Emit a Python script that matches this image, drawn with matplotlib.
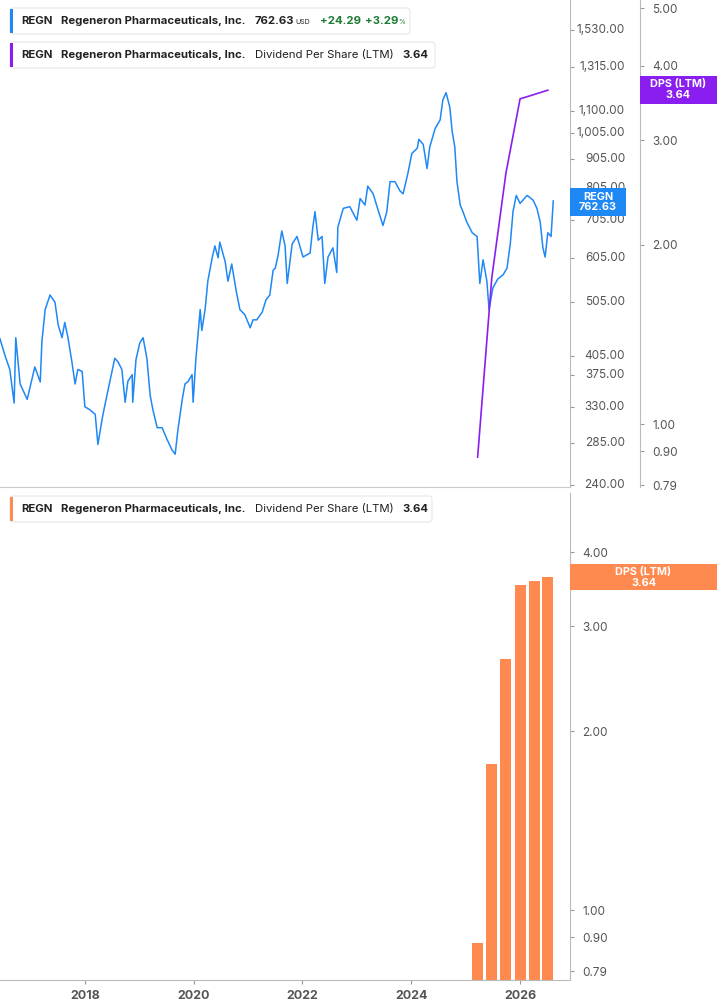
import matplotlib
matplotlib.use("Agg")
import matplotlib.pyplot as plt
import matplotlib.transforms as mtransforms
from matplotlib.patches import FancyBboxPatch, Rectangle
from matplotlib.ticker import FixedLocator, NullLocator, NullFormatter

plt.rcParams['font.family'] = ['Inter', 'DejaVu Sans']

price_dates = [2016.44,2016.53,2016.62,2016.70,2016.73,2016.81,2016.94,2017.08,2017.18,2017.21,2017.27,2017.36,2017.45,2017.51,2017.58,2017.63,2017.69,2017.76,2017.82,2017.87,2017.95,2018.00,2018.09,2018.19,2018.24,2018.32,2018.37,2018.46,2018.55,2018.61,2018.68,2018.74,2018.79,2018.87,2018.88,2018.94,2019.01,2019.07,2019.14,2019.20,2019.25,2019.33,2019.42,2019.51,2019.60,2019.66,2019.71,2019.79,2019.84,2019.90,2019.97,2019.99,2020.04,2020.12,2020.15,2020.21,2020.26,2020.34,2020.39,2020.45,2020.48,2020.58,2020.63,2020.70,2020.78,2020.85,2020.94,2021.04,2021.09,2021.16,2021.26,2021.33,2021.40,2021.46,2021.50,2021.55,2021.62,2021.68,2021.72,2021.81,2021.90,2022.01,2022.14,2022.19,2022.23,2022.29,2022.36,2022.41,2022.47,2022.56,2022.63,2022.65,2022.75,2022.87,2023.00,2023.06,2023.15,2023.20,2023.30,2023.39,2023.48,2023.55,2023.61,2023.70,2023.79,2023.85,2023.94,2024.01,2024.11,2024.14,2024.22,2024.29,2024.34,2024.44,2024.53,2024.58,2024.64,2024.71,2024.75,2024.80,2024.84,2024.90,2024.95,2025.02,2025.12,2025.21,2025.26,2025.32,2025.39,2025.43,2025.50,2025.59,2025.69,2025.76,2025.82,2025.87,2025.93,2026.00,2026.13,2026.24,2026.31,2026.37,2026.42,2026.46,2026.51,2026.57,2026.61]
price_values = [435,407,384,335,437,362,340,388,365,430,490,520,505,460,437,465,437,397,362,384,381,330,326,320,283,315,333,366,402,396,384,336,366,376,336,400,428,437,402,346,326,303,303,289,277,272,300,340,362,366,376,336,400,490,450,490,550,605,635,605,645,595,550,590,530,490,480,455,470,470,485,510,520,575,580,610,675,635,545,640,660,607,617,685,730,650,660,545,607,630,570,685,740,745,705,770,750,810,785,735,690,730,825,825,795,785,855,925,945,980,960,870,950,1025,1060,1150,1185,1115,1015,950,825,750,730,700,670,660,545,600,550,490,535,555,565,580,640,730,780,755,780,765,740,700,630,607,670,660,762.63]

dps_dates = [2025.22, 2025.48, 2025.74, 2026.00, 2026.26, 2026.51]
dps_values = [0.88, 1.76, 2.64, 3.52, 3.58, 3.64]

price_ticks = [240, 285, 330, 375, 405, 505, 605, 705, 805, 905, 1005, 1100, 1315, 1530]
dps_ticks = [0.79, 0.90, 1.00, 2.00, 3.00, 4.00, 5.00]
year_ticks = [2018, 2020, 2022, 2024, 2026]

W, H = 717, 1005
BLUE = '#1E88F5'
PURPLE = '#8A1EF0'
ORANGE = '#FF8A50'
GRAY = '#555555'
fig = plt.figure(figsize=(W/100, H/100), dpi=100)

def fx(x): return x / W
def fy(y): return 1 - y / H

XL = (2016.44, 2016.44 + 570/54.4)

# top price axes
ax = fig.add_axes([0, fy(487), fx(570), 487/H])
ax.plot(price_dates, price_values, color=BLUE, lw=1.1)
ax.set_yscale('log')
ax.set_ylim(238, 1728)
ax.set_xlim(*XL)
ax.yaxis.set_major_locator(FixedLocator(price_ticks))
ax.yaxis.set_minor_locator(NullLocator())
ax.yaxis.set_major_formatter(NullFormatter())
ax.set_xticks([])
for s in ['top', 'left']:
    ax.spines[s].set_visible(False)
ax.spines['right'].set_color('#bbbbbb')
ax.spines['bottom'].set_color('#cccccc')

# top dps axis
ax2 = ax.twinx()
ax.tick_params(axis='y', left=False, right=True, labelleft=False, length=3, color='#999999')
trans = mtransforms.blended_transform_factory(ax.transAxes, ax.transData)
for v in price_ticks:
    ax.text(625/570, v, f"{v:,.2f}", transform=trans, ha='right', va='center',
            fontsize=8.5, color=GRAY, clip_on=False)
ax2.plot(dps_dates, dps_values, color=PURPLE, lw=1.2)
ax2.set_yscale('log')
ax2.set_ylim(0.784, 5.16)
ax2.set_xlim(*XL)
ax2.yaxis.set_major_locator(FixedLocator(dps_ticks))
ax2.yaxis.set_minor_locator(NullLocator())
ax2.set_yticklabels([f"{v:.2f}" for v in dps_ticks])
ax2.spines['right'].set_position(('axes', 640/570))
ax2.spines['right'].set_color('#bbbbbb')
for s in ['top', 'left', 'bottom']:
    ax2.spines[s].set_visible(False)
ax2.tick_params(axis='y', length=3, color='#999999', labelsize=8.5, labelcolor=GRAY, pad=6)

# bottom axes
ax3 = fig.add_axes([0, fy(980), fx(570), 487/H])
ax3.bar(dps_dates, dps_values, width=0.2, bottom=0, color=ORANGE)
ax3.set_yscale('log')
ax3.set_ylim(0.763, 5.03)
ax3.set_xlim(*XL)
ax3.yaxis.set_major_locator(FixedLocator(dps_ticks[:-1]))
ax3.yaxis.set_minor_locator(NullLocator())
ax3.set_yticklabels([f"{v:.2f}" for v in dps_ticks[:-1]])
ax3.yaxis.tick_right()
ax3.tick_params(axis='y', length=3, color='#999999', labelsize=8.5, labelcolor=GRAY, pad=6)
ax3.set_xticks(year_ticks)
ax3.set_xticklabels([str(y) for y in year_ticks], fontweight='bold')
ax3.tick_params(axis='x', length=3, color='#999999', labelsize=9, labelcolor=GRAY, pad=4)
for s in ['top', 'left']:
    ax3.spines[s].set_visible(False)
ax3.spines['right'].set_color('#bbbbbb')
ax3.spines['bottom'].set_color('#bbbbbb')

# legend boxes
def legend_box(x0, y0, x1, y1, color):
    fig.patches.append(FancyBboxPatch((fx(x0), fy(y1)), fx(x1 - x0), (y1 - y0)/H,
        boxstyle="round,pad=0,rounding_size=0.004", transform=fig.transFigure,
        facecolor='white', edgecolor='#e6e6e6', lw=0.8, zorder=5))
    fig.patches.append(Rectangle((fx(x0), fy(y1 - 1)), fx(3), (y1 - y0 - 2)/H,
        transform=fig.transFigure, facecolor=color, edgecolor='none', zorder=6))

FS = 8.2
def t(x, y, s, **kw):
    kw.setdefault('fontsize', FS)
    kw.setdefault('color', '#222222')
    fig.text(fx(x), fy(y), s, va='center', ha='left', zorder=7, **kw)

legend_box(10, 8, 410, 34, BLUE)
t(21, 21, "REGN", fontweight='bold')
t(61, 21, "Regeneron Pharmaceuticals, Inc.", fontweight='bold')
t(255, 21, "762.63", fontweight='bold')
t(295, 22.5, "USD", fontsize=5)
t(320, 21, "+24.29", fontweight='bold', color='#1E7B34')
t(365, 21, "+3.29", fontweight='bold', color='#1E7B34')
t(398, 22.5, "%", fontsize=5, color='#1E7B34')

legend_box(10, 42, 435, 68, PURPLE)
t(21, 55, "REGN", fontweight='bold')
t(61, 55, "Regeneron Pharmaceuticals, Inc.", fontweight='bold')
t(255, 55, "Dividend Per Share (LTM)")
t(402, 55, "3.64", fontweight='bold')

legend_box(10, 496, 432, 522, ORANGE)
t(21, 509, "REGN", fontweight='bold')
t(61, 509, "Regeneron Pharmaceuticals, Inc.", fontweight='bold')
t(255, 509, "Dividend Per Share (LTM)")
t(402, 509, "3.64", fontweight='bold')

# value badges
def badge(x0, y0, x1, y1, color, lines):
    fig.patches.append(Rectangle((fx(x0), fy(y1)), fx(x1 - x0), (y1 - y0)/H,
        transform=fig.transFigure, facecolor=color, edgecolor='none', zorder=8))
    cx = (x0 + x1) / 2
    n = len(lines)
    for i, s in enumerate(lines):
        yy = (y0 + y1) / 2 + (i - (n - 1) / 2) * 11
        fig.text(fx(cx), fy(yy), s, ha='center', va='center', color='white',
                 fontsize=7.8, fontweight='bold', zorder=9)

badge(570, 188, 626, 216, BLUE, ["REGN", "762.63"])
badge(640, 76, 717, 104, PURPLE, ["DPS (LTM)", "3.64"])
badge(570, 564, 717, 590, ORANGE, ["DPS (LTM)", "3.64"])

fig.savefig("out.png", dpi=100)
